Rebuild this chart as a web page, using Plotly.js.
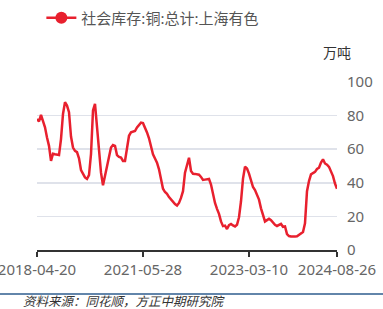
<!DOCTYPE html>
<html>
<head>
<meta charset="utf-8">
<script src="https://cdn.plot.ly/plotly-3.0.1.min.js"></script>
<style>html,body{margin:0;padding:0;background:#fff;}#chart{width:383px;height:309px;}</style>
</head>
<body>
<div id="chart"></div>
<script>
const seriesName = "社会库存:铜:总计:上海有色";
const inventory = [
  78, 76.5, 80.5, 77.3, 73, 67, 62, 53, 57.3, 57,
  56.7, 56.5, 66, 81, 88, 86, 82, 67.5, 61, 59,
  58.3, 54.6, 47.6, 45, 43.2, 42.3, 44.6, 57, 83, 87,
  74, 58, 46, 38.5, 44.6, 50, 57, 61, 62.5, 62,
  56.5, 55.4, 55, 53, 53, 61, 68, 70, 70.3, 70.8,
  73, 74.5, 75.8, 75.5, 73, 70, 66.5, 62, 57, 54.5,
  52, 48, 43, 36.5, 34.5, 33.4, 31.5, 30, 28.4, 27.3,
  26.5, 28, 31, 35, 46, 51, 54.9, 47, 45.4, 45.3,
  45.2, 44.8, 43.5, 41.7, 41.9, 42.1, 42.3, 39, 32.5, 28,
  24.5, 21.5, 17, 14.2, 14.5, 12.5, 14.8, 15.5, 14.6, 14,
  15, 19.5, 29, 42.5, 49.6, 48.5, 45.5, 41, 37.5, 35.7,
  33.2, 30, 24.8, 20.5, 17, 17.8, 18.6, 17.7, 16.1, 15,
  14.3, 14.7, 15.5, 13.8, 14, 9.5, 8.3, 8, 7.9, 8,
  8.2, 9, 9.8, 10.7, 15.9, 35, 41, 45, 45.8, 46.5,
  48.2, 49, 52, 54, 51.5, 50.8, 49.5, 47, 44, 39.5,
  36.5
];
const tickIndex = [0, 53, 106, 150];
const tickLabels = ["2018-04-20", "2021-05-28", "2023-03-10", "2024-08-26"];
const yTicks = [0, 20, 40, 60, 80, 100];
const unitLabel = "万吨";
const sourceText = "资料来源：同花顺，方正中期研究院";

const xIdx = inventory.map((v, i) => i);
const red = "#e8202e";
const fontFam = "Noto Sans, Noto Sans CJK SC, sans-serif";

const traces = [
  {
    x: xIdx, y: inventory, type: "scatter", mode: "lines",
    line: {color: red, width: 2.5}, showlegend: false, hoverinfo: "skip"
  },
  {
    x: [null], y: [null], type: "scatter", mode: "lines+markers",
    name: seriesName, line: {color: red, width: 2.5},
    marker: {color: red, size: 12}, showlegend: true
  }
];

const layout = {
  width: 383, height: 309,
  margin: {l: 37, r: 46, t: 82, b: 59},
  paper_bgcolor: "#fff", plot_bgcolor: "#fff",
  font: {family: fontFam, size: 15, color: "#666"},
  showlegend: true,
  legend: {
    orientation: "h", xref: "container", yref: "container",
    x: 0.108, y: 0.995, xanchor: "left", yanchor: "top",
    font: {size: 15, color: "#555", family: fontFam},
    bgcolor: "rgba(0,0,0,0)", itemwidth: 30
  },
  xaxis: {
    type: "linear", range: [0, 150], fixedrange: true,
    tickmode: "array", tickvals: tickIndex, ticktext: tickLabels,
    showgrid: false, zeroline: false,
    showline: true, linecolor: "#333", linewidth: 1.5,
    ticks: "outside", ticklen: 5, tickcolor: "#333", tickwidth: 1.5,
    ticklabeloverflow: "allow",
    tickfont: {size: 15, color: "#666"}
  },
  yaxis: {
    side: "right", range: [0, 100], fixedrange: true,
    tickmode: "array", tickvals: yTicks,
    showgrid: true, gridcolor: "#dfe2ea", gridwidth: 1.5,
    zeroline: false, showline: false, ticks: "",
    ticklabelstandoff: 9,
    tickfont: {size: 15, color: "#666"}
  },
  annotations: [
    {
      text: unitLabel, xref: "paper", yref: "paper", x: 1.0, y: 1.0,
      yshift: 30, xanchor: "center", yanchor: "middle", showarrow: false,
      font: {size: 14, color: "#333", family: fontFam}
    },
    {
      text: "<i>" + sourceText + "</i>", xref: "paper", yref: "paper",
      x: -15 / 300, y: -50 / 168, xanchor: "left", yanchor: "middle",
      showarrow: false, borderpad: 0,
      font: {size: 12.5, color: "#333", family: "Noto Sans CJK SC, sans-serif"}
    }
  ],
  shapes: [
    {
      type: "line", xref: "paper", yref: "paper",
      x0: -37 / 300, x1: 1 + 46 / 300,
      y0: -44 / 168, y1: -44 / 168,
      line: {color: "#2e5d8e", width: 1.5}
    }
  ]
};

Plotly.newPlot("chart", traces, layout, {displayModeBar: false, staticPlot: true});
</script>
</body>
</html>
